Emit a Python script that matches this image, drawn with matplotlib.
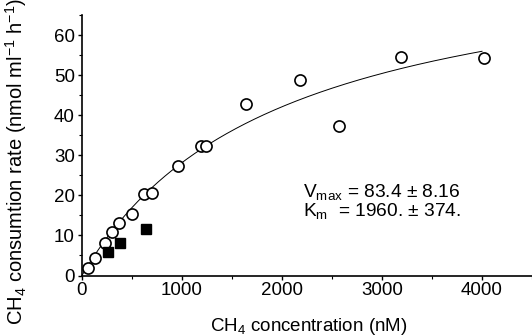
import numpy as np
import matplotlib
matplotlib.use("Agg")
import matplotlib.pyplot as plt
from matplotlib.ticker import MultipleLocator

plt.rcParams["font.family"] = ["Liberation Sans", "DejaVu Sans"]
plt.rcParams["mathtext.default"] = "regular"

# data
conc_open = [63, 129, 228, 301, 367, 499, 625, 701, 956, 1188, 1237,
             1644, 2183, 2566, 3190, 4016]
rate_open = [1.8, 4.3, 8.1, 10.9, 13.2, 15.3, 20.3, 20.7, 27.3, 32.3, 32.3,
             42.9, 48.8, 37.4, 54.5, 54.2]

conc_filled = [258, 376, 643]
rate_filled = [5.8, 8.2, 11.7]

vmax = 83.4
km = 1960.0

# Michaelis-Menten fit curve
xfit = np.linspace(0, 4000, 300)
yfit = vmax * xfit / (km + xfit)

fig = plt.figure(figsize=(5.32, 3.36), dpi=100)
ax = fig.add_axes([0.154, 0.18, 0.846, 0.775])

ax.plot(xfit, yfit, color="black", lw=0.7)
ax.plot(conc_open, rate_open, "o", mfc="white", mec="black", mew=1.2, ms=8)
ax.plot(conc_filled, rate_filled, "s", mfc="black", mec="black", ms=7.5)

ax.set_xlim(0, 4500)
ax.set_ylim(0, 65)
ax.xaxis.set_major_locator(MultipleLocator(1000))
ax.xaxis.set_minor_locator(MultipleLocator(500))
ax.yaxis.set_major_locator(MultipleLocator(10))
ax.yaxis.set_minor_locator(MultipleLocator(5))

for s in ["top", "right"]:
    ax.spines[s].set_visible(False)
ax.spines["left"].set_linewidth(1.2)
ax.spines["bottom"].set_linewidth(1.2)
ax.tick_params(which="major", direction="out", length=3, width=1, labelsize=13.5, pad=2)
ax.tick_params(which="minor", direction="out", length=2, width=0.8)

ax.set_xlabel("CH$_4$ concentration (nM)", fontsize=13.5)
ax.xaxis.set_label_coords(0.504, -0.155)
ax.set_ylabel("CH$_4$ consumtion rate (nmol ml$^{-1}$ h$^{-1}$)", fontsize=14.5)
ax.yaxis.set_label_coords(-0.118, 0.436)

ax.text(2215, 20.8, "V$_{max}$ = 83.4 ± 8.16", fontsize=13.8, va="center")
ax.text(2215, 16.2, "K$_m$  = 1960. ± 374.", fontsize=13.8, va="center")

fig.savefig("out.png", dpi=100)
